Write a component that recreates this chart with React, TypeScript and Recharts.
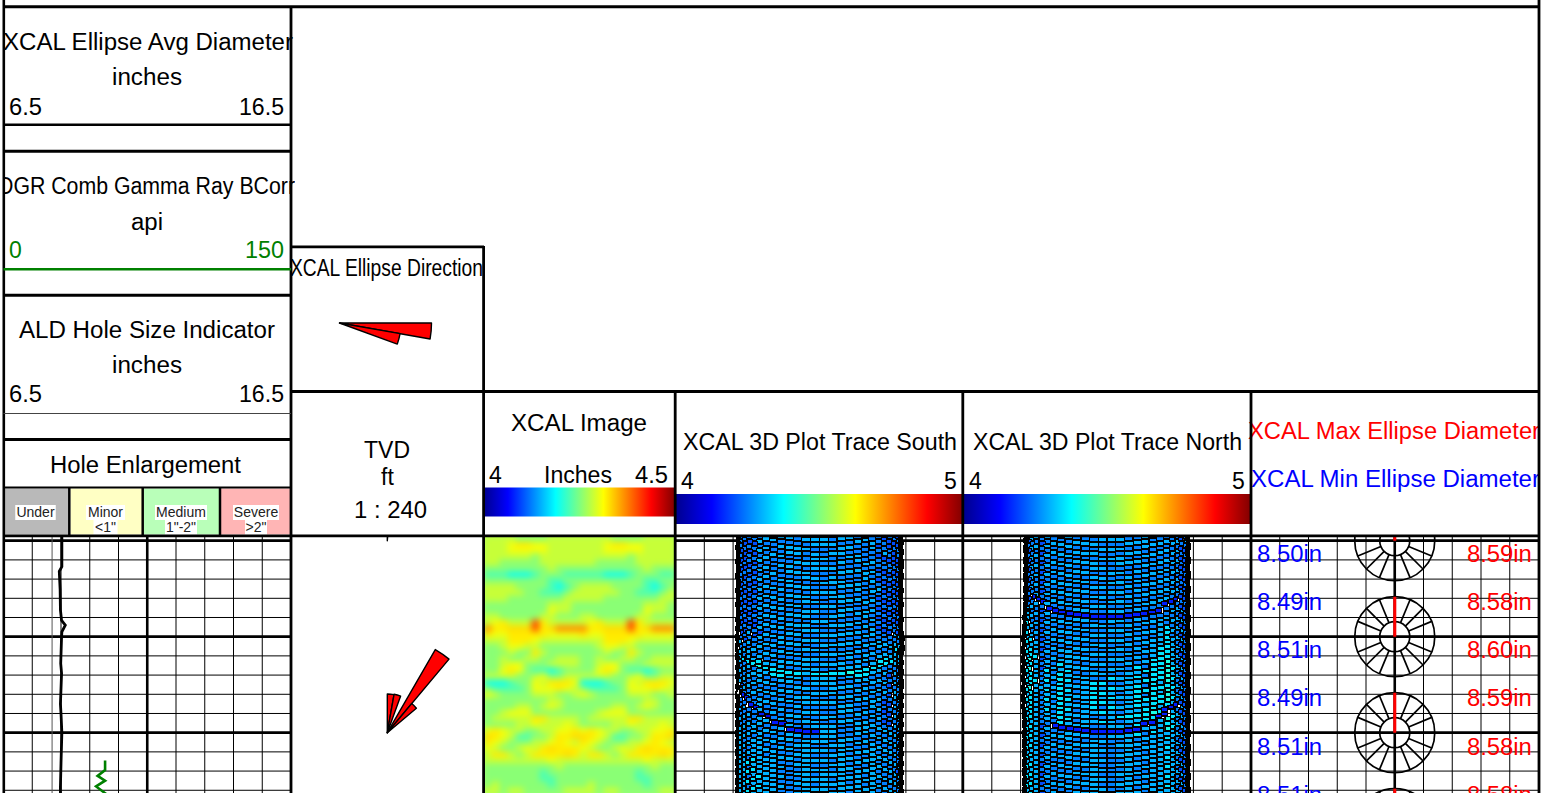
import React from 'react';
import { ScatterChart, Scatter, XAxis, YAxis, ReferenceLine } from 'recharts';

// depth in ft below the first heavy line, one thin grid line every 2 ft
const DEPTH_START = -0.49;
const DEPTH_END = 28.68;
const THIN_DEPTHS = [2, 4, 6, 8, 12, 14, 16, 18, 22, 24, 26, 28];
const HEAVY_DEPTHS = [0, 10, 20];
const THIN_DIVS = [1, 2, 3, 4, 6, 7, 8, 9];
const HEAVY_DIVS = [5];

// track 1
const AVG_DIAMETER_DEPTHS = [-0.5, 0.1, 2.7, 3.2, 5.1, 7.2, 8.3, 8.8, 9.5, 10, 12.8, 13.8, 17, 18, 20, 23.2, 25.6, 26.3, 28];
const AVG_DIAMETER = [8.53, 8.53, 8.53, 8.44, 8.47, 8.48, 8.52, 8.65, 8.53, 8.52, 8.49, 8.52, 8.48, 8.5, 8.53, 8.5, 8.48, 8.48, 8.49];
const HOLE_SIZE_DEPTHS = [-0.5, 28];
const HOLE_SIZE = [8.19, 8.19];
const GAMMA_DEPTHS = [22.9, 23.9, 24.5, 25, 25.6, 26.3, 27];
const GAMMA = [53, 53, 49.1, 53, 48.3, 53, 50];

// 3..b levels, one string per depth row, one char per 30 degrees, repeated for both image wraps
const IMAGE_LEVEL_INCHES = [4.17, 4.18, 4.185, 4.193, 4.225, 4.255, 4.285, 4.305, 4.322, 4.33, 4.37, 4.395];
const IMAGE_ROWS = [
  '666655556666',
  '666788776666',
  '666777776666',
  '666666566666',
  '665555566666',
  '555555556555',
  '444333455544',
  '555555554455',
  '666655554345',
  '666665544456',
  '666555555566',
  '555555556665',
  '555555557665',
  '665555566555',
  '678666b86666',
  'a88999b89aaa',
  '877888887777',
  '666888766666',
  '556776655555',
  '555655865555',
  '556556655666',
  '556775556666',
  '557875443455',
  '666655675566',
  '333455768887',
  '544445777876',
  '765555666556',
  '555555556655',
  '555566567655',
  '556777555555',
  '566666886666',
  '555566766676',
  '787665566778',
  '987644556889',
  '876555667876',
  '765567689888',
  '688656888898',
  '666666667666',
  '555555555655',
  '555555545555',
  '555555544555',
  '565555554555',
  '665665555566',
];

// 0..9 levels of radius, one string per 0.5 ft row, one char per 6 degrees of the visible half
const SOUTH_ROWS = [
  '445545546655665566556654554544',
  '454455465566566656655545545454',
  '544554556655556665566554454545',
  '455445565566665556655654545444',
  '445554456556656566555645454554',
  '544545565665556655665555445445',
  '454554456555666556565546554454',
  '445445565566556665556654545445',
  '554545456556665556665555445554',
  '445454565655566565556645544545',
  '454545456566555666556554554454',
  '545454565556665556665645445445',
  '454545456665556665565554554545',
  '445554565556665566555665445454',
  '544455456665566556665554554445',
  '454544565556655665556645445544',
  '445455456665566556655554554454',
  '554544565556665566566645445445',
  '445455456665556655556554554544',
  '454544565556665566665645445454',
  '545455456665566555556554554445',
  '454544465556655666665645445544',
  '445455546665566555556654554454',
  '554546465566655666665555455445',
  '445455556655566555556665564544',
  '556546565566655666665566556554',
  '465655656655566555656655665565',
  '556566565566665666566566576656',
  '467656676665566556665677667565',
  '556677787777767777877777766556',
  '465656566776656665677665566545',
  '556565665566556665566556556554',
  '455656566655665566655665465445',
  '546565655566556665566556556454',
  '455656566655665556655665465545',
  '546465655566566665566556556454',
  '455556566655655556655665465545',
  '553335565565566556655654565545',
  '465553365656655665566565456454',
  '556565532565566556655654565545',
  '455656566336556665566565456454',
  '546565565563333665566654565545',
  '465656656656655665566565456454',
  '556565665566566656655656565545',
  '465656566655665566566565656454',
  '556665665566566656655656565545',
  '466656666655665566566665656454',
  '556665665666566656655656565545',
  '466656666655665566566665656454',
  '556665766665566656655656565545',
  '466667666655665666566665655454',
  '556665766665566656665656565545',
  '466667676655665666566665656453',
  '556665766665566656665656564545',
  '466667676655665666566665656454',
  '556665766665566656665656565545',
  '466667676655665666566665656454',
  '556665766665566656665656565545',
  '466667676655665666566665656454',
  '556665766665566656665656565545',
  '466667676655665666566665656454',
  '556665766665566656665656565545',
];
const NORTH_ROWS = [
  '465565665566566566556676656654',
  '556656556665556665565665667565',
  '465565665556665556665556656654',
  '556456556665556665566665556545',
  '445565465556665556655556645454',
  '544456556665556665566665556445',
  '454565465556665566655556645544',
  '445456556665566555566665554454',
  '554565465556655665655556645445',
  '445456556665566556566665554544',
  '454565465556655665655556645454',
  '545456556665566556566665554445',
  '454565465556655665655556645544',
  '445456556665566556566665554454',
  '554565465556655665655556645445',
  '445456556665566556566665554544',
  '454533365556655665655533345454',
  '545456533333333333333355554445',
  '454565465556655665655556645544',
  '445656556665566556566665564454',
  '554665465556655665655656645445',
  '456656556665566556566675564544',
  '465765465556655665655676645454',
  '556656556665566556566675564545',
  '467765465556655665656676645544',
  '557676556665566556566776564454',
  '468766465566655665656776645445',
  '567676556665566556567776564544',
  '468777465766655665757786645454',
  '577686566675566556677786564545',
  '468776475766655766757787645544',
  '577686566775677556677786564454',
  '468776575766676766757687645445',
  '577677566775677656777776564544',
  '468776675766676766757687645454',
  '577686566775677656777786564445',
  '468776575766675766767787645544',
  '577676566775667656677676564454',
  '468776575766655677778733345445',
  '577676566775667656677336564544',
  '468776565766655665733687645454',
  '567676553333333333366676564545',
  '467766465566655666757687645544',
  '556676556665566556566666564454',
  '467766465556665566656676645445',
  '556676556665566556566666564544',
  '467766465556665566656676645454',
  '556676556665566556566666564545',
  '467766465556665566656676645544',
  '556676556665566556566666564454',
  '467766465556665566656676645445',
  '556676556665566556566666564544',
  '467766465556665566656676645454',
  '556676556665566556566666564545',
  '467766465556665566656676645544',
  '556676556665566556566666564454',
  '467766465556665566656676645445',
  '556676556665566556566666564544',
  '467766465556665566656676645454',
  '556676556665566556566666564545',
  '467766465556665566656676645544',
  '556676556665566556566666564454',
];

// ellipse wheels and readings
const WHEEL_DEPTHS = [0, 10, 20, 30];
const LABEL_DEPTHS = [1.4, 6.4, 11.4, 16.4, 21.45, 26.5];
const MIN_DIAMETER = [8.5, 8.49, 8.51, 8.49, 8.51, 8.51];
const MAX_DIAMETER = [8.59, 8.58, 8.6, 8.59, 8.58, 8.58];
const SPOKE_BEARINGS = [0, 22.5, 45, 67.5, 90, 112.5, 135, 157.5, 180, 202.5, 225, 247.5, 270, 292.5, 315, 337.5];

// rose petals: bearing from, bearing to, length
const ROSE_DEPTHS = [0, 20];
const ROSE_PETALS = [
  [[0, 5, 3.5]],
  [[0, 10, 38.7], [10, 20, 39], [30, 40, 96], [40, 50, 38]],
];
const HEADER_PETALS = [[90, 100, 92], [100, 110, 61.5]];

const JET_STOPS: [number, number[]][] = [
  [0, [0, 0, 143]],
  [0.125, [0, 0, 255]],
  [0.375, [0, 255, 255]],
  [0.625, [255, 255, 0]],
  [0.875, [255, 0, 0]],
  [1, [128, 0, 0]],
];
const jet = (t: number) => {
  const clamped = Math.min(1, Math.max(0, t));
  for (let i = 1; i < JET_STOPS.length; i++) {
    const [t1, c1] = JET_STOPS[i];
    const [t0, c0] = JET_STOPS[i - 1];
    if (clamped <= t1) {
      const k = (clamped - t0) / (t1 - t0);
      return `rgb(${c0.map((c, j) => Math.round(c + (c1[j] - c) * k)).join(',')})`;
    }
  }
  return 'rgb(128,0,0)';
};

const PLOT_TOP = 536;
const PLOT_HEIGHT = 280;
const PX_PER_FT = PLOT_HEIGHT / (DEPTH_END - DEPTH_START);
const FONT = '"Liberation Sans", Arial, sans-serif';
const rad = (deg: number) => (deg * Math.PI) / 180;
const pairs = (ys: number[], xs: number[]) => xs.map((x, i) => ({ x, y: ys[i] }));
const noMark = () => <g />;

const gridLines = () => [
  ...THIN_DEPTHS.map((d) => <ReferenceLine key={`t${d}`} y={d} stroke="#000" strokeWidth={1} />),
  ...THIN_DIVS.map((d) => <ReferenceLine key={`v${d}`} x={d} stroke="#000" strokeWidth={1} />),
  ...HEAVY_DEPTHS.map((d) => <ReferenceLine key={`h${d}`} y={d} stroke="#000" strokeWidth={2.8} />),
  ...HEAVY_DIVS.map((d) => <ReferenceLine key={`c${d}`} x={d} stroke="#000" strokeWidth={2.6} />),
];

const Track = ({ x0, x1, children }: any) => {
  const left = Math.floor(x0);
  return (
    <div style={{ position: 'absolute', left, top: PLOT_TOP }}>
      <ScatterChart
        width={Math.ceil(x1) - left}
        height={PLOT_HEIGHT}
        margin={{ top: 0, bottom: 0, left: x0 - left, right: Math.ceil(x1) - x1 }}
      >
        <XAxis type="number" dataKey="x" domain={[0, 10]} allowDataOverflow hide />
        <YAxis type="number" dataKey="y" domain={[DEPTH_START, DEPTH_END]} reversed allowDataOverflow hide />
        {children}
      </ScatterChart>
    </div>
  );
};

// half cylinder seen from slightly above
const RADIUS_DOMAIN = 7.3;
const ROW_BOW_FT = 2.9;
const THETAS = Array.from({ length: 30 }, (_, i) => -87 + i * 6);
const cylinderCells = (rows: string[]) =>
  rows.flatMap((row, i) =>
    THETAS.map((theta, c) => {
      const value = 4 + Number(row[c]) * 0.05;
      return {
        x: value * Math.sin(rad(theta)),
        y: -3.5 + i * 0.5 + ROW_BOW_FT * Math.cos(rad(theta)),
        value,
        span: value * (Math.sin(rad(theta + 3)) - Math.sin(rad(theta - 3))),
      };
    }),
  );

const Cylinder = ({ x0, rows }: { x0: number; rows: string[] }) => {
  const width = 288;
  const pxPerInch = width / (2 * RADIUS_DOMAIN);
  const rowHeight = 0.5 * PX_PER_FT;
  const cell = (p: any) => {
    const w = p.payload.span * pxPerInch;
    const left = p.cx - w / 2;
    const top = p.cy - rowHeight / 2;
    return (
      <g shapeRendering="crispEdges">
        <rect x={left - 0.5} y={top} width={w + 1} height={rowHeight + 0.5} fill="#000" />
        {w > 2.8 && (
          <rect x={left + 0.6} y={top + 1} width={w - 1.2} height={rowHeight - 2} fill={jet(p.payload.value - 4)} />
        )}
      </g>
    );
  };
  return (
    <Track x0={x0} x1={x0 + width}>
      <XAxis xAxisId="radius" type="number" dataKey="x" domain={[-RADIUS_DOMAIN, RADIUS_DOMAIN]} allowDataOverflow hide />
      {gridLines()}
      <Scatter xAxisId="radius" data={cylinderCells(rows)} shape={cell} isAnimationActive={false} />
    </Track>
  );
};

const ImageTrack = () => {
  const cells = IMAGE_ROWS.flatMap((row, i) =>
    [0, 1].flatMap((wrap) =>
      row.split('').map((level, c) => ({
        x: wrap * 360 + c * 30 + 15,
        y: DEPTH_START + (i + 0.5) * 0.625,
        value: IMAGE_LEVEL_INCHES[parseInt(level, 16)],
      })),
    ),
  );
  const width = 191.5;
  const cell = (p: any) => (
    <rect
      x={p.cx - width / 48 - 0.5}
      y={p.cy - 0.3125 * PX_PER_FT - 0.5}
      width={width / 24 + 1}
      height={0.625 * PX_PER_FT + 1}
      fill={jet((p.payload.value - 4) / 0.5)}
    />
  );
  return (
    <div style={{ position: 'absolute', left: 484, top: PLOT_TOP, width: 191.5, height: 257, overflow: 'hidden', background: '#a8ff70' }}>
      <div style={{ position: 'absolute', left: 0, top: 0, filter: 'blur(3px)' }}>
        <ScatterChart width={192} height={PLOT_HEIGHT} margin={{ top: 0, bottom: 0, left: 0, right: 0.5 }}>
          <XAxis type="number" dataKey="x" domain={[0, 720]} allowDataOverflow hide />
          <YAxis type="number" dataKey="y" domain={[DEPTH_START, DEPTH_END]} reversed allowDataOverflow hide />
          <Scatter data={cells} shape={cell} isAnimationActive={false} />
        </ScatterChart>
      </div>
    </div>
  );
};

const Rose = (p: any) => (
  <g fill="#f00" stroke="#000" strokeWidth={1.4} strokeLinejoin="round">
    {p.payload.petals.map(([from, to, len]: number[]) => (
      <path
        key={from}
        d={`M${p.cx} ${p.cy}L${p.cx + len * Math.sin(rad(from))} ${p.cy - len * Math.cos(rad(from))}A${len} ${len} 0 0 1 ${
          p.cx + len * Math.sin(rad(to))
        } ${p.cy - len * Math.cos(rad(to))}Z`}
      />
    ))}
  </g>
);

const Wheel = (p: any) => {
  const outer = 40;
  const inner = 15;
  return (
    <g fill="none" stroke="#000" strokeWidth={1.7}>
      <circle cx={p.cx} cy={p.cy} r={outer} />
      <circle cx={p.cx} cy={p.cy} r={inner} />
      {SPOKE_BEARINGS.map((b) => (
        <line
          key={b}
          x1={p.cx + inner * Math.sin(rad(b))}
          y1={p.cy - inner * Math.cos(rad(b))}
          x2={p.cx + outer * Math.sin(rad(b))}
          y2={p.cy - outer * Math.cos(rad(b))}
        />
      ))}
      <line x1={p.cx} y1={p.cy} x2={p.cx} y2={p.cy - outer} stroke="#f00" strokeWidth={3} />
    </g>
  );
};

const reading = (color: string) => (p: any) =>
  (
    <text
      x={p.cx}
      y={p.cy + 8}
      textAnchor="middle"
      fontFamily={FONT}
      fontSize={23}
      fill={color}
      textLength={65}
      lengthAdjust="spacingAndGlyphs"
    >
      {`${p.payload.v.toFixed(2)}in`}
    </text>
  );

// header text with the stretched widths of the log header
const T = ({ x, y, w, color = '#000', size = 23, anchor = 'start', children }: any) => (
  <text
    x={x}
    y={y}
    fontFamily={FONT}
    fontSize={size}
    fill={color}
    textAnchor={anchor}
    textLength={w}
    lengthAdjust={w ? 'spacingAndGlyphs' : undefined}
  >
    {children}
  </text>
);

const Ln = ({ x1, y1, x2, y2, w = 2.5, color = '#000' }: any) => (
  <line x1={x1} y1={y1} x2={x2} y2={y2} stroke={color} strokeWidth={w} />
);

const ENLARGEMENT = [
  { x: 5, w: 63.5, fill: '#b9b9b9', top: 'Under', bottom: '', cx: 35.5, tw: 38.5, bw: 0 },
  { x: 70.5, w: 72, fill: '#ffffc4', top: 'Minor', bottom: '<1"', cx: 105.5, tw: 37, bw: 22 },
  { x: 144, w: 75.5, fill: '#b9ffb9', top: 'Medium', bottom: '1"-2"', cx: 181, tw: 50, bw: 30 },
  { x: 221, w: 69, fill: '#ffb5b5', top: 'Severe', bottom: '>2"', cx: 256, tw: 44, bw: 20 },
];

const Header = () => (
  <svg width={1551} height={793} style={{ position: 'absolute', left: 0, top: 0, pointerEvents: 'none' }}>
    <defs>
      <linearGradient id="jetBar">
        {JET_STOPS.map(([t, c]) => (
          <stop key={t} offset={t} stopColor={`rgb(${c.join(',')})`} />
        ))}
      </linearGradient>
      <clipPath id="leftCol">
        <rect x={4} y={0} width={291} height={536} />
      </clipPath>
      <clipPath id="rightCol">
        <rect x={1247} y={392} width={291} height={140} />
      </clipPath>
    </defs>

    <g clipPath="url(#leftCol)">
      <T x={3} y={50} w={290}>XCAL Ellipse Avg Diameter</T>
      <T x={-2} y={194} w={297}>DGR Comb Gamma Ray BCorr</T>
    </g>
    <T x={112} y={85} w={70}>inches</T>
    <T x={9} y={115} w={33}>6.5</T>
    <T x={239} y={115} w={45}>16.5</T>
    <T x={131} y={229.5} w={32}>api</T>
    <T x={9} y={258} color="#008000">0</T>
    <T x={245} y={258} w={39} color="#008000">150</T>
    <T x={19} y={338} w={256}>ALD Hole Size Indicator</T>
    <T x={112} y={373} w={70}>inches</T>
    <T x={9} y={402} w={33}>6.5</T>
    <T x={239} y={402} w={45}>16.5</T>
    <T x={50} y={473} w={191}>Hole Enlargement</T>

    {ENLARGEMENT.map((b) => (
      <g key={b.top}>
        <rect x={b.x} y={488.5} width={b.w} height={46} fill={b.fill} />
        <rect x={b.cx - b.tw / 2 - 1} y={505} width={b.tw + 2} height={15} fill="#fff" />
        {b.bottom && <rect x={b.cx - b.bw / 2 - 1} y={520} width={b.bw + 2} height={15} fill="#fff" />}
        <T x={b.cx} y={517} size={14} anchor="middle" color="#222">{b.top}</T>
        {b.bottom && <T x={b.cx} y={532} size={14} anchor="middle" color="#222">{b.bottom}</T>}
      </g>
    ))}

    <T x={290} y={276} w={193}>XCAL Ellipse Direction</T>
    <T x={364} y={458} w={46}>TVD</T>
    <T x={387.5} y={484.5} anchor="middle">ft</T>
    <T x={354} y={518} w={73}>1 : 240</T>

    <T x={511} y={431} w={136}>XCAL Image</T>
    <T x={489} y={483}>4</T>
    <T x={544} y={483} w={68}>Inches</T>
    <T x={635} y={483} w={33}>4.5</T>
    <rect x={484} y={487.5} width={191} height={29} fill="url(#jetBar)" />

    <T x={683} y={450} w={274}>XCAL 3D Plot Trace South</T>
    <T x={681} y={489}>4</T>
    <T x={944} y={489}>5</T>
    <rect x={676} y={494} width={287} height={30} fill="url(#jetBar)" />
    <T x={973} y={450} w={269}>XCAL 3D Plot Trace North</T>
    <T x={969} y={489}>4</T>
    <T x={1232} y={489}>5</T>
    <rect x={964} y={494} width={287} height={30} fill="url(#jetBar)" />

    <g clipPath="url(#rightCol)">
      <T x={1248} y={438.5} w={292} color="#f00">XCAL Max Ellipse Diameter</T>
      <T x={1251} y={487} w={289} color="#00f">XCAL Min Ellipse Diameter</T>
    </g>

    {/* frame of the log */}
    <Ln x1={3.5} y1={6.7} x2={1539} y2={6.7} w={3} />
    <Ln x1={3.8} y1={0} x2={3.8} y2={793} w={2.6} />
    <Ln x1={291} y1={6} x2={291} y2={793} w={2.8} />
    <Ln x1={1539} y1={0} x2={1539} y2={793} w={2.8} />
    <Ln x1={3.5} y1={124.7} x2={291} y2={124.7} w={2.6} />
    <Ln x1={3.5} y1={151.3} x2={291} y2={151.3} w={3} />
    <Ln x1={3.5} y1={269.3} x2={291} y2={269.3} w={2.6} color="#008000" />
    <Ln x1={3.5} y1={295.3} x2={291} y2={295.3} w={3} />
    <Ln x1={3.5} y1={413.5} x2={291} y2={413.5} w={1} color="#444" />
    <Ln x1={3.5} y1={439.5} x2={291} y2={439.5} w={3} />
    <Ln x1={3.5} y1={487.4} x2={291} y2={487.4} w={2} />
    <Ln x1={69.3} y1={487} x2={69.3} y2={536} w={2.5} />
    <Ln x1={142.7} y1={487} x2={142.7} y2={536} w={2.5} />
    <Ln x1={220} y1={487} x2={220} y2={536} w={2.5} />
    <Ln x1={291} y1={246.8} x2={484} y2={246.8} w={2.8} />
    <Ln x1={291} y1={391.5} x2={1539} y2={391.5} w={2.8} />
    <Ln x1={3.5} y1={535.8} x2={1539} y2={535.8} w={2.8} />
    <Ln x1={483.6} y1={246} x2={483.6} y2={793} w={2.8} />
    <Ln x1={675.2} y1={391} x2={675.2} y2={793} w={2.8} />
    <Ln x1={962.8} y1={391} x2={962.8} y2={793} w={2.8} />
    <Ln x1={1251} y1={391} x2={1251} y2={793} w={2.8} />
  </svg>
);

export default function App() {
  return (
    <div style={{ position: 'absolute', left: 0, top: 0, width: 1551, height: 793, overflow: 'hidden', background: '#fff' }}>
      <Track x0={3.5} x1={291}>
        <XAxis xAxisId="caliper" type="number" dataKey="x" domain={[6.5, 16.5]} allowDataOverflow hide />
        <XAxis xAxisId="gamma" type="number" dataKey="x" domain={[0, 150]} allowDataOverflow hide />
        {gridLines()}
        <Scatter
          xAxisId="caliper"
          data={pairs(HOLE_SIZE_DEPTHS, HOLE_SIZE)}
          line={{ stroke: '#555', strokeWidth: 1 }}
          shape={noMark}
          isAnimationActive={false}
        />
        <Scatter
          xAxisId="caliper"
          data={pairs(AVG_DIAMETER_DEPTHS, AVG_DIAMETER)}
          line={{ stroke: '#000', strokeWidth: 2.8 }}
          shape={noMark}
          isAnimationActive={false}
        />
        <Scatter
          xAxisId="gamma"
          data={pairs(GAMMA_DEPTHS, GAMMA)}
          line={{ stroke: '#008000', strokeWidth: 2.6 }}
          shape={noMark}
          isAnimationActive={false}
        />
      </Track>

      <Track x0={291} x1={483.6}>
        <Scatter
          data={ROSE_DEPTHS.map((y, i) => ({ x: 5, y, petals: ROSE_PETALS[i] }))}
          shape={Rose}
          isAnimationActive={false}
        />
      </Track>

      <ImageTrack />
      <Cylinder x0={675.5} rows={SOUTH_ROWS} />
      <Cylinder x0={963} rows={NORTH_ROWS} />

      <Track x0={1251} x1={1538.5}>
        {gridLines()}
        <Scatter data={WHEEL_DEPTHS.map((y) => ({ x: 5, y }))} shape={Wheel} isAnimationActive={false} />
        <Scatter data={LABEL_DEPTHS.map((y, i) => ({ x: 1.34, y, v: MIN_DIAMETER[i] }))} shape={reading('#00f')} isAnimationActive={false} />
        <Scatter data={LABEL_DEPTHS.map((y, i) => ({ x: 8.64, y, v: MAX_DIAMETER[i] }))} shape={reading('#f00')} isAnimationActive={false} />
      </Track>

      <Header />

      {/* direction rose of the header box */}
      <div style={{ position: 'absolute', left: 239, top: 293 }}>
        <ScatterChart width={201} height={60} margin={{ top: 0, bottom: 0, left: 0, right: 0 }}>
          <XAxis type="number" dataKey="x" domain={[-1, 1]} allowDataOverflow hide />
          <YAxis type="number" dataKey="y" domain={[-1, 1]} allowDataOverflow hide />
          <Scatter data={[{ x: 0, y: 0, petals: HEADER_PETALS }]} shape={Rose} isAnimationActive={false} />
        </ScatterChart>
      </div>
    </div>
  );
}
